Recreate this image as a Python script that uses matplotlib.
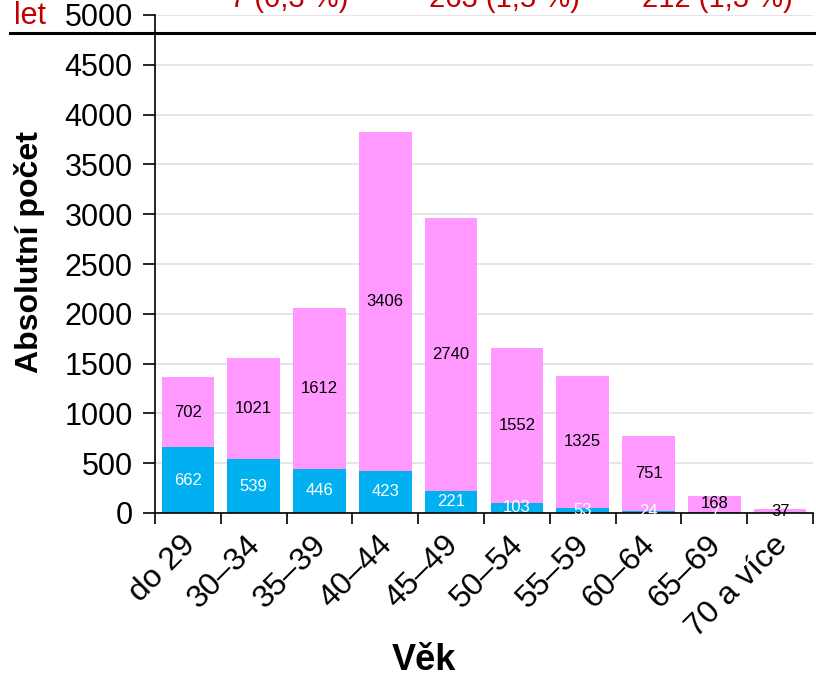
import numpy as np
import matplotlib.pyplot as plt
import matplotlib.transforms as mtransforms
from matplotlib.lines import Line2D

plt.rcParams['font.family'] = ['Liberation Sans', 'DejaVu Sans']

categories = ['do 29', '30–34', '35–39', '40–44', '45–49', '50–54',
              '55–59', '60–64', '65–69', '70 a více']
blue_vals = [662, 539, 446, 423, 221, 103, 53, 24, 7, 0]
pink_vals = [702, 1021, 1612, 3406, 2740, 1552, 1325, 751, 168, 37]
top_texts = ['7 (0,3 %)', '263 (1,5 %)', '212 (1,3 %)']

blue = '#00B0F0'
pink = '#FF99FF'
red = '#C00000'

fig = plt.figure(figsize=(8.16, 6.75), dpi=100)
ax = fig.add_axes([155/816, 1-513/675, (813-155)/816, (513-15)/675])

x = np.arange(len(categories))
blue_vals = np.array(blue_vals)
pink_vals = np.array(pink_vals)

ax.bar(x, blue_vals, width=0.8, color=blue, zorder=2)
ax.bar(x, pink_vals, width=0.8, bottom=blue_vals, color=pink, zorder=2)

for i in x:
    if blue_vals[i] > 0:
        ax.text(i, blue_vals[i] / 2, str(blue_vals[i]), ha='center', va='center',
                color='white', fontsize=12, zorder=3)
    ax.text(i, blue_vals[i] + pink_vals[i] / 2, str(pink_vals[i]), ha='center',
            va='center', color='black', fontsize=12, zorder=3)

ax.set_xlim(-0.5, len(categories) - 0.5)
ax.set_ylim(0, 5000)
ax.set_yticks(np.arange(0, 5001, 500))
ax.set_xticks(x)
ax.set_xticklabels(categories, rotation=45, ha='right', rotation_mode='anchor')
ax.set_xticks(np.arange(-0.5, len(categories)), minor=True)
ax.tick_params(axis='x', which='major', length=0, pad=8, labelsize=23)
ax.tick_params(axis='x', which='minor', length=8, width=1.2, direction='out')
ax.tick_params(axis='y', length=9, width=1.2, direction='out', labelsize=22, pad=7)

# nudge rotated labels a bit down/left
shift = mtransforms.ScaledTranslation(-8/100, -6/100, fig.dpi_scale_trans)
for lbl in ax.get_xticklabels():
    lbl.set_transform(lbl.get_transform() + shift)

ax.grid(axis='y', color='#e0e0e0', linewidth=1.2, zorder=0)
ax.set_axisbelow(True)
for s in ['top', 'right']:
    ax.spines[s].set_visible(False)
ax.spines['left'].set_linewidth(1.2)
ax.spines['bottom'].set_linewidth(1.2)

ax.set_ylabel('Absolutní počet', fontsize=23, fontweight='bold')
ax.yaxis.set_label_coords((30-155)/658, (513-252)/498)
ax.set_xlabel('Věk', fontsize=26, fontweight='bold')
ax.xaxis.set_label_coords((424-155)/658, (513-660)/498)
ax.xaxis.label.set_va('center')
ax.yaxis.label.set_va('center')

# cropped header above the chart
fig.add_artist(Line2D([10/816, 1], [1-33/675, 1-33/675], color='black', linewidth=2.2))
fig.text(14/816, 1-24/675, 'let', color=red, fontsize=22, va='baseline', ha='left')
for xc, t in zip([289, 504, 717], top_texts):
    fig.text(xc/816, 1-7/675, t, color=red, fontsize=21, va='baseline', ha='center')

fig.savefig('out.png', dpi=100)
